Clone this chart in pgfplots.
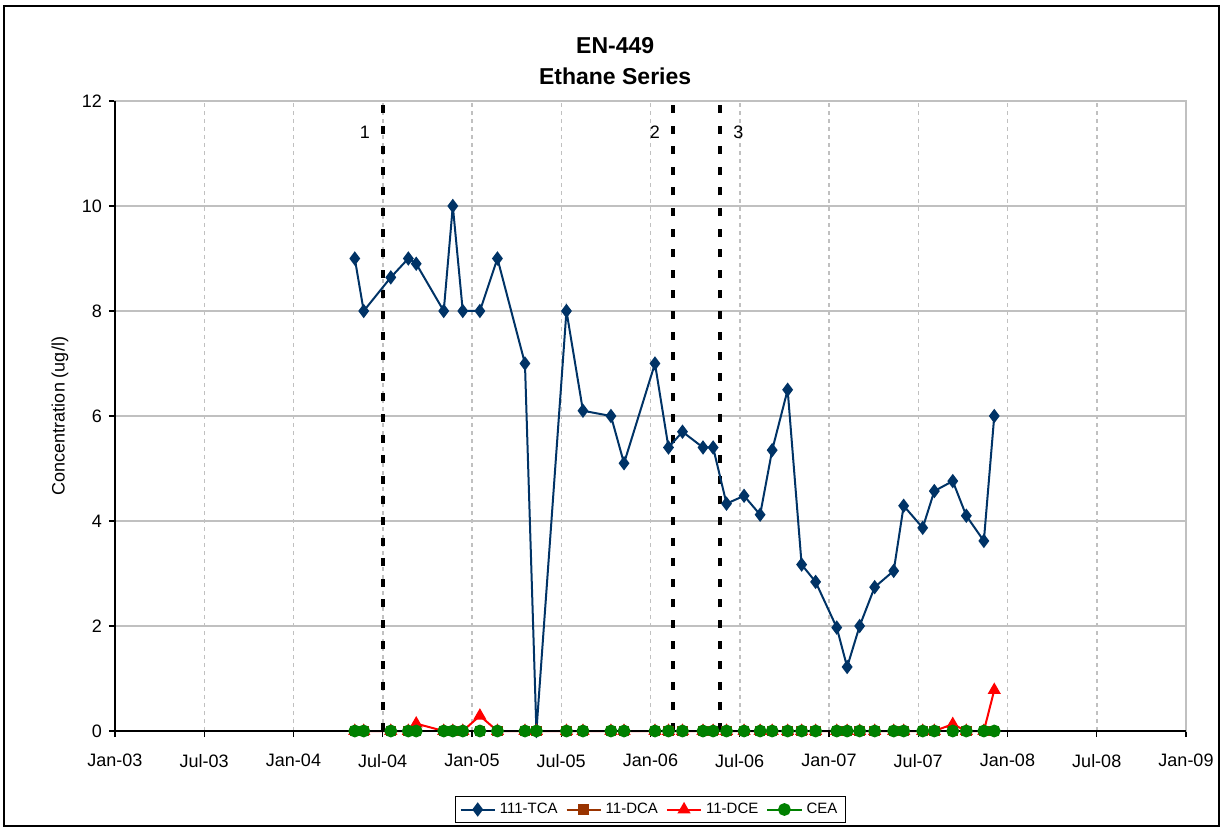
\documentclass[border=0pt]{standalone}
\usepackage{fontspec}
\setmainfont{Liberation Sans}
\usepackage{pgfplots}
\pgfplotsset{compat=1.18}

\definecolor{tcacol}{RGB}{0,51,102}
\definecolor{dcacol}{RGB}{153,51,0}
\definecolor{dcecol}{RGB}{255,0,0}
\definecolor{ceacol}{RGB}{0,128,0}
\definecolor{gridcol}{RGB}{192,192,192}

\begin{document}
\begin{tikzpicture}
\useasboundingbox (-57.5pt,-49pt) rectangle (555pt,365.5pt);
\draw[black, line width=1pt] (-55.5pt,-47.5pt) rectangle (552pt,362.5pt);
\begin{axis}[
  at={(0,0)}, anchor=south west,
  scale only axis,
  width=535.5pt, height=315pt,
  xmin=0, xmax=72, ymin=0, ymax=12,
  xtick={0,6,...,72},
  xticklabels={Jan-03,Jul-03,Jan-04,Jul-04,Jan-05,Jul-05,Jan-06,Jul-06,Jan-07,Jul-07,Jan-08,Jul-08,Jan-09},
  ytick={0,2,...,12},
  tick align=outside, xtick pos=bottom, ytick pos=left,
  major tick length=3pt,
  tick style={black, line width=0.6pt},
  xmajorgrids, ymajorgrids,
  x grid style={gridcol, line width=0.75pt, dash pattern=on 2pt off 2pt},
  y grid style={gridcol, line width=0.75pt},
  axis line style={gridcol, line width=0.75pt},
  tick label style={font=\fontsize{9}{10}\selectfont},
  /pgf/number format/assume math mode=true,
  xticklabel style={yshift=-5pt},
  ylabel={Concentration (ug/l)},
  ylabel style={font=\fontsize{9}{10}\selectfont, at={(axis description cs:-0.0514,0.5)}, anchor=center},
  legend columns=-1,
  legend style={at={(0.5,0)}, anchor=center, yshift=-39.25pt, draw=black, line width=0.5pt,
    font=\fontsize{7.5}{8}\selectfont, inner xsep=2pt, inner ysep=1pt,
    /tikz/every even column/.append style={column sep=2pt}},
  clip=false,
]
% event lines
\addplot[black, line width=2pt, dash pattern=on 4pt off 6.3pt, forget plot] coordinates {(18.03,0) (18.03,12)};
\addplot[black, line width=2pt, dash pattern=on 4pt off 6.3pt, forget plot] coordinates {(37.48,0) (37.48,12)};
\addplot[black, line width=2pt, dash pattern=on 4pt off 6.3pt, forget plot] coordinates {(40.68,0) (40.68,12)};

\addplot[tcacol, line width=1pt, mark=diamond*, mark size=2.8pt, mark options={solid, fill=tcacol}] coordinates {
(16.12,9) (16.72,8) (18.54,8.64) (19.72,9) (20.25,8.9) (22.10,8) (22.71,10) (23.38,8) (24.53,8) (25.71,9)
(27.56,7) (28.33,0) (30.35,8) (31.46,6.1) (33.34,6) (34.22,5.1) (36.30,7) (37.21,5.4) (38.15,5.7) (39.53,5.4)
(40.21,5.4) (41.11,4.33) (42.29,4.48) (43.37,4.12) (44.18,5.35) (45.22,6.5) (46.16,3.17) (47.10,2.84) (48.52,1.97) (49.22,1.22)
(50.06,2.0) (51.07,2.74) (52.35,3.05) (53.02,4.29) (54.30,3.87) (55.08,4.57) (56.32,4.76) (57.23,4.1) (58.41,3.62) (59.11,6)
};
\addlegendentry{111-TCA}

\addplot[dcacol, line width=1pt, mark=square*, mark size=2.1pt, mark options={solid, fill=dcacol}] coordinates {
(16.12,0) (16.72,0) (18.54,0) (19.72,0) (20.25,0) (22.10,0) (22.71,0) (23.38,0) (24.53,0) (25.71,0)
(27.56,0) (28.33,0) (30.35,0) (31.46,0) (33.34,0) (34.22,0) (36.30,0) (37.21,0) (38.15,0) (39.53,0)
(40.21,0) (41.11,0) (42.29,0) (43.37,0) (44.18,0) (45.22,0) (46.16,0) (47.10,0) (48.52,0) (49.22,0)
(50.06,0) (51.07,0) (52.35,0) (53.02,0) (54.30,0) (55.08,0) (56.32,0) (57.23,0) (58.41,0) (59.11,0)
};
\addlegendentry{11-DCA}

\addplot[dcecol, line width=1pt, mark=triangle*, mark size=2.8pt, mark options={solid, fill=dcecol}] coordinates {
(16.12,0) (16.72,0) (18.54,0) (19.72,0) (20.25,0.14) (22.10,0) (22.71,0) (23.38,0) (24.53,0.29) (25.71,0)
(27.56,0) (28.33,0) (30.35,0) (31.46,0) (33.34,0) (34.22,0) (36.30,0) (37.21,0) (38.15,0) (39.53,0)
(40.21,0) (41.11,0) (42.29,0) (43.37,0) (44.18,0) (45.22,0) (46.16,0) (47.10,0) (48.52,0) (49.22,0)
(50.06,0) (51.07,0) (52.35,0) (53.02,0) (54.30,0) (55.08,0) (56.32,0.13) (57.23,0) (58.41,0) (59.11,0.78)
};
\addlegendentry{11-DCE}

\addplot[ceacol, line width=1pt, mark=*, mark size=2.7pt, mark options={solid, fill=ceacol}] coordinates {
(16.12,0) (16.72,0) (18.54,0) (19.72,0) (20.25,0) (22.10,0) (22.71,0) (23.38,0) (24.53,0) (25.71,0)
(27.56,0) (28.33,0) (30.35,0) (31.46,0) (33.34,0) (34.22,0) (36.30,0) (37.21,0) (38.15,0) (39.53,0)
(40.21,0) (41.11,0) (42.29,0) (43.37,0) (44.18,0) (45.22,0) (46.16,0) (47.10,0) (48.52,0) (49.22,0)
(50.06,0) (51.07,0) (52.35,0) (53.02,0) (54.30,0) (55.08,0) (56.32,0) (57.23,0) (58.41,0) (59.11,0)
};
\addlegendentry{CEA}

\draw[black, line width=0.75pt] (rel axis cs:0,1) -- (rel axis cs:0,0) -- (rel axis cs:1,0);
\node[font=\fontsize{9}{10}\selectfont] at (axis cs:16.8,11.4) {1};
\node[font=\fontsize{9}{10}\selectfont] at (axis cs:36.3,11.4) {2};
\node[font=\fontsize{9}{10}\selectfont] at (axis cs:41.9,11.4) {3};
\node[font=\bfseries\fontsize{11.5}{13}\selectfont, anchor=base] at ([yshift=23.5pt]rel axis cs:0.467,1) {EN-449};
\node[font=\bfseries\fontsize{11.5}{13}\selectfont, anchor=base] at ([yshift=8pt]rel axis cs:0.467,1) {Ethane Series};
\end{axis}
\end{tikzpicture}
\end{document}
